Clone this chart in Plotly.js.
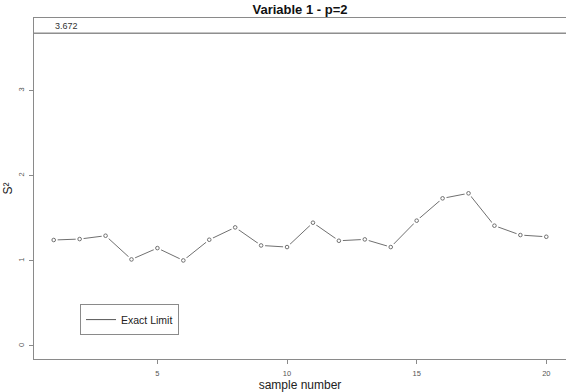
<!DOCTYPE html>
<html>
<head>
<meta charset="utf-8">
<script src="https://cdn.plot.ly/plotly-3.0.1.min.js"></script>
<style>html,body{margin:0;padding:0;background:#fff;}#chart{width:566px;height:392px;}</style>
</head>
<body>
<div id="chart"></div>
<script>
const sampleNumbers = [1,2,3,4,5,6,7,8,9,10,11,12,13,14,15,16,17,18,19,20];
const s2Values = [1.244,1.255,1.294,1.016,1.149,1.004,1.247,1.392,1.180,1.161,1.447,1.235,1.251,1.161,1.471,1.733,1.792,1.412,1.302,1.282];
const exactLimit = [3.672];
const xTicks = [5,10,15,20];
const yTicks = [0,1,2,3];
const xRange = [0.24, 20.76];
const yRange = [-0.153, 3.85];

const lineCol = '#707070';
const axisCol = '#8a8a8a';

const traces = [
  {x: sampleNumbers, y: s2Values, mode: 'lines', line: {color: lineCol, width: 1}, showlegend: false, hoverinfo: 'skip'},
  {x: sampleNumbers, y: s2Values, mode: 'markers', marker: {symbol: 'circle', size: 8, color: '#ffffff'}, showlegend: false, hoverinfo: 'skip'},
  {x: sampleNumbers, y: s2Values, mode: 'markers', marker: {symbol: 'circle-open', size: 3.6, color: lineCol, line: {width: 1}}, showlegend: false},
  {x: xRange, y: [exactLimit[0], exactLimit[0]], mode: 'lines', line: {color: '#555555', width: 1}, name: 'Exact Limit', showlegend: true}
];

const layout = {
  width: 566, height: 392,
  margin: {l: 34, r: 0, t: 18, b: 33},
  paper_bgcolor: '#ffffff', plot_bgcolor: '#ffffff',
  font: {family: 'Liberation Sans, Arial, sans-serif', color: '#333333'},
  title: {text: '<b>Variable 1 - p=2</b>', font: {size: 13, color: '#111111'}, x: 0.5, xref: 'paper', xanchor: 'center', y: 0.977, yref: 'container', yanchor: 'middle'},
  xaxis: {
    range: xRange, tickvals: xTicks, ticktext: xTicks.map(String),
    showgrid: false, zeroline: false, showline: true, linecolor: axisCol, linewidth: 1, mirror: true,
    ticks: 'outside', ticklen: 4, tickcolor: axisCol, tickfont: {size: 7.5, color: '#555555'}, ticklabelstandoff: 3,
    title: {text: 'sample number', font: {size: 12, color: '#222222'}, standoff: 2}
  },
  yaxis: {
    range: yRange, tickvals: yTicks, ticktext: yTicks.map(String), tickangle: -90,
    showgrid: false, zeroline: false, showline: true, linecolor: axisCol, linewidth: 1,
    ticks: 'outside', ticklen: 4, tickcolor: axisCol, tickfont: {size: 7.5, color: '#555555'}, ticklabelstandoff: 2,
    title: {text: 'S²', font: {size: 12, color: '#222222'}, standoff: 1}
  },
  legend: {
    x: 0.0865, y: 0.161, xanchor: 'left', yanchor: 'top',
    bgcolor: '#ffffff', bordercolor: axisCol, borderwidth: 1,
    font: {size: 10.5, color: '#222222'}, itemwidth: 30
  },
  annotations: [{
    xref: 'paper', yref: 'y', x: 0.062, y: exactLimit[0], text: String(exactLimit[0]),
    showarrow: false, xanchor: 'center', yanchor: 'bottom', yshift: 0,
    font: {size: 9, color: '#333333'}
  }]
};

Plotly.newPlot('chart', traces, layout, {displayModeBar: false, staticPlot: true});
</script>
</body>
</html>
